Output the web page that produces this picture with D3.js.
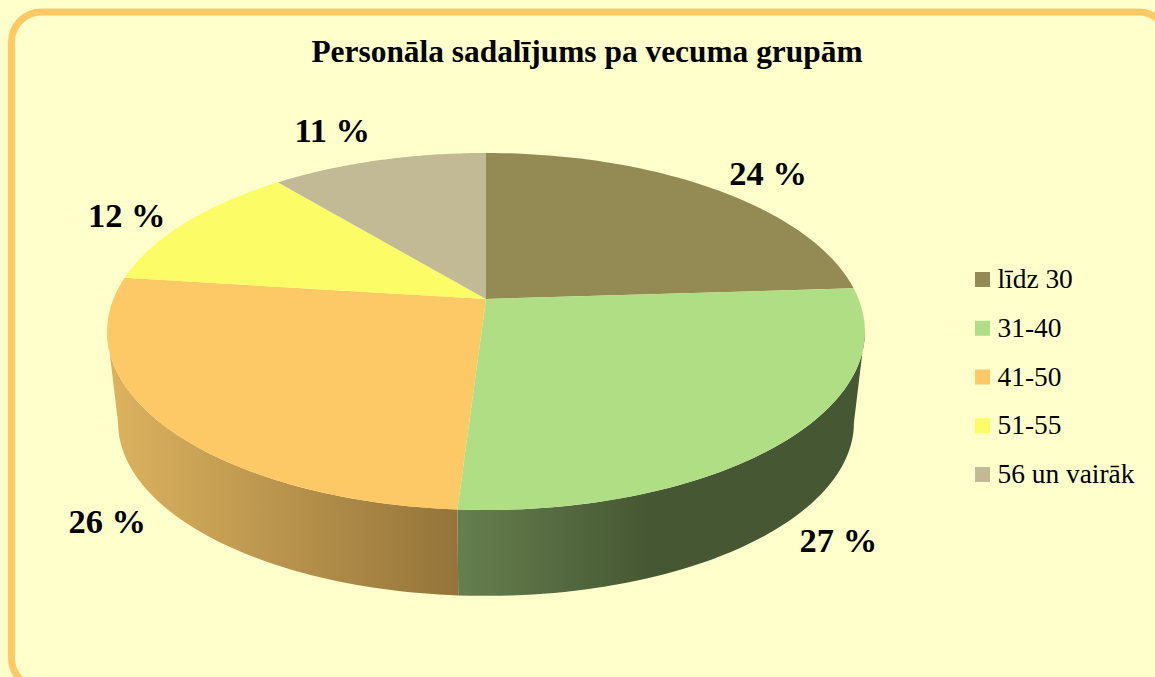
<!DOCTYPE html>
<html>
<head>
<meta charset="utf-8">
<script src="https://cdn.jsdelivr.net/npm/d3@7/dist/d3.min.js"></script>
<style>
html,body{margin:0;padding:0;background:#FFFFCC;overflow:hidden}
svg{display:block}
text{font-family:"Liberation Serif",serif;fill:#000}
</style>
</head>
<body>
<svg id="chart" width="1155" height="677"></svg>
<script>
const titleText = "Personāla sadalījums pa vecuma grupām";
const categories = ["līdz 30", "31-40", "41-50", "51-55", "56 un vairāk"];
const values = [24, 27, 26, 12, 11];
const sliceColors = ["#948A54", "#B0DE85", "#FCC966", "#FCFC66", "#C2B995"];
// label nudge from the rim point at each slice's mid angle
const labelOffsets = [[57,-15],[50,101],[-54,98],[-59,-8],[-46,-30]];
// side wall shading: [offset, colour] per slice that shows a wall
const wallStops = {
  1: [[0,"#667F4F"],[0.47,"#465833"],[1,"#465833"]],
  2: [[0,"#DDB35F"],[1,"#94743A"]]
};

const svg = d3.select("#chart");

svg.append("rect").attr("x",11.5).attr("y",12).attr("width",1157).attr("height",676)
  .attr("rx",30).attr("ry",30).attr("fill","#FFFFCC").attr("stroke","#FFC966").attr("stroke-width",7);

svg.append("text").attr("x",587).attr("y",62).attr("text-anchor","middle")
  .attr("font-size",31.4).attr("font-weight","bold").text(titleText);

const color = d3.scaleOrdinal().domain(categories).range(sliceColors);
const arcs = d3.pie().sort(null)(values);

// perspective disc: unit circle -> screen
const k = 0.182;
function disc(cx, cy, R, Rs){
  return a => {
    const u = Math.sin(a), v = -Math.cos(a), w = 1 - k*v;
    return [cx + R*u/w, cy + Rs*v/w];
  };
}
const topDisc = disc(486, 299, 372.6, 172.6);
const scaleLow = 0.971;
const lowDisc = disc(486, 391, 372.6*scaleLow, 172.6*scaleLow);
const line = d3.line();
const sample = (f, a0, a1) => d3.range(0, 61).map(i => f(a0 + (a1-a0)*i/60));

// visible side wall range: between the two horizontal extremes of the disc
const wallMin = Math.PI - Math.acos(k), wallMax = Math.PI + Math.acos(k);

const defs = svg.append("defs");
arcs.forEach((d,i) => {
  const a0 = Math.max(d.startAngle, wallMin), a1 = Math.min(d.endAngle, wallMax);
  if (a1 <= a0 || !wallStops[i]) return;
  const outline = sample(topDisc,a0,a1).concat(sample(lowDisc,a1,a0));
  const xs = d3.extent(outline, p => p[0]);
  const g = defs.append("linearGradient").attr("id","wall"+i)
    .attr("gradientUnits","userSpaceOnUse")
    .attr("x1", xs[0]).attr("x2", xs[1]).attr("y1",0).attr("y2",0);
  wallStops[i].forEach(s => g.append("stop").attr("offset",s[0]).attr("stop-color",s[1]));
  svg.append("path").attr("d", line(outline)+"Z").attr("fill","url(#wall"+i+")");
});

svg.selectAll("path.slice").data(arcs).enter().append("path").attr("class","slice")
  .attr("d", d => line([[486,299]].concat(sample(topDisc,d.startAngle,d.endAngle)))+"Z")
  .attr("fill", (d,i) => color(categories[i]));

svg.selectAll("text.pct").data(arcs).enter().append("text").attr("class","pct")
  .attr("text-anchor","middle").attr("font-size",34.5).attr("font-weight","bold")
  .attr("transform",(d,i) => {
    const p = topDisc((d.startAngle+d.endAngle)/2);
    return `translate(${p[0]+labelOffsets[i][0]},${p[1]+labelOffsets[i][1]+12})`;
  })
  .text(d => d.value + " %");

const legendY = d3.scalePoint().domain(categories).range([272, 467]);
const legend = svg.selectAll("g.leg").data(categories).enter().append("g").attr("class","leg")
  .attr("transform", d => `translate(975,${legendY(d)})`);
legend.append("rect").attr("width",15).attr("height",15).attr("fill", d => color(d));
legend.append("text").attr("x",22.5).attr("y",16).attr("font-size",27.4).attr("fill","#111").text(d => d);
</script>
</body>
</html>
